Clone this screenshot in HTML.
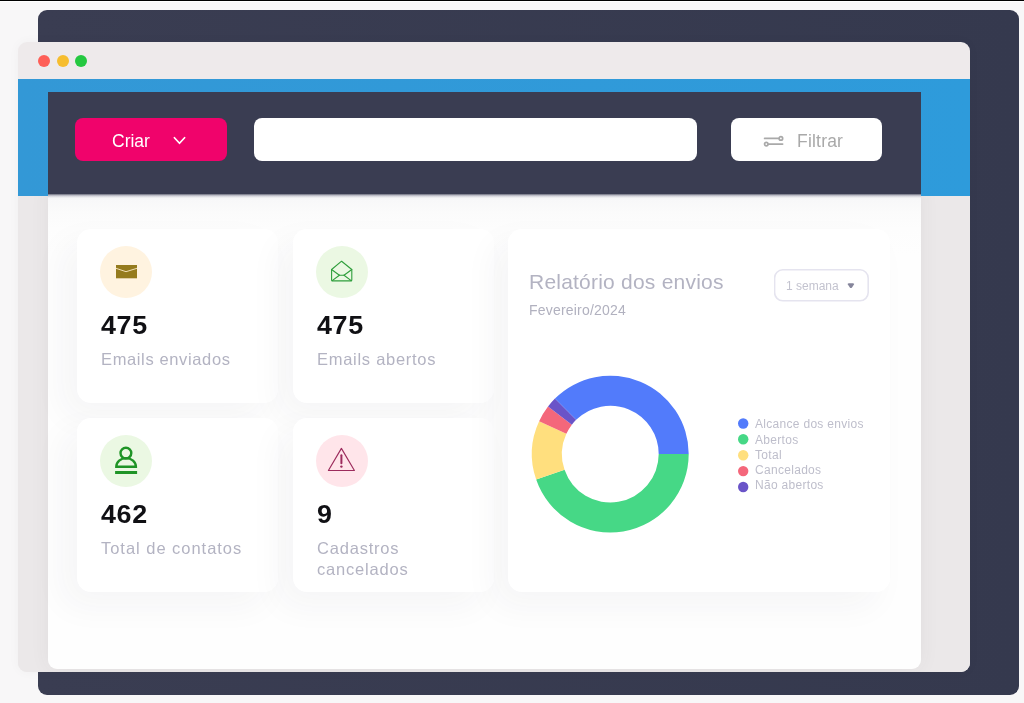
<!DOCTYPE html>
<html lang="pt-BR">
<head>
<meta charset="utf-8">
<title>Painel de envios</title>
<style>
  * { box-sizing: border-box; margin: 0; padding: 0; }
  html, body { width: 1024px; height: 703px; overflow: hidden; }
  body {
    position: relative;
    background: #f8f7f8;
    font-family: "Liberation Sans", sans-serif;
    -webkit-font-smoothing: antialiased;
  }
  .abs { position: absolute; }
  .lg, .num, .lbl, .rtitle, .rsub, .btn span, .dd span { will-change: transform; }
  .topline { left: 0; top: 0; width: 1024px; height: 1px; background: #000; }
  .topline2 { left: 0; top: 1px; width: 1024px; height: 1px; background: #fff; }
  .backpanel { left: 38px; top: 10px; width: 981px; height: 685px; border-radius: 9px; background: linear-gradient(to right, #3a3d52, #35394e); }
  .window { left: 18px; top: 42.4px; width: 952px; height: 629.6px; border-radius: 9px; background: #eeeaeb; overflow: hidden; box-shadow: 0 0 12px rgba(0,0,0,0.035); }
  .bluebar { left: 18px; top: 79px; width: 952px; height: 116.5px; background: linear-gradient(to right, #3398d6, #2e9bdb); }
  .header { left: 48px; top: 91.6px; width: 873px; height: 102.4px; background: #3a3d52; }
  .content { left: 48px; top: 194px; width: 873px; height: 475px; border-radius: 0 0 9px 9px;
    background: linear-gradient(to bottom, #f3f3f5 0px, #f8f8f9 6px, #fbfbfb 18px, #fdfdfd 34px, #fefefe 60px, #fefefe 100%); }
  .lower { left: 18px; top: 195.5px; width: 952px; height: 476.5px; border-radius: 0 0 9px 9px; overflow: hidden; background: #ebe8e9; }
  .contentshadow { left: 30px; top: -10px; width: 873px; height: 483.5px; border-radius: 0 0 9px 9px; box-shadow: 0 0 20px rgba(70,60,75,0.06); }
  .hshadow { left: 48px; top: 193.5px; width: 873px; height: 4.5px; background: linear-gradient(to bottom, rgba(58,61,82,0.75), rgba(90,90,120,0.25) 45%, rgba(120,120,150,0)); }
  .dot { width: 12px; height: 12px; border-radius: 50%; top: 55.3px; }

  .btn { top: 118.2px; height: 42.4px; border-radius: 8px; }
  .criar { left: 75px; width: 151.8px; background: #f0036b; color: #fff; }
  .search { left: 254.2px; width: 443.3px; background: #fff; }
  .filtrar { left: 730.8px; width: 151.7px; background: #fff; color: #a9a9a9; }
  .btn span { position: absolute; font-size: 17px; line-height: 20px; white-space: nowrap; }

  .card { background: #fff; border-radius: 14px; box-shadow: -14px 14px 34px rgba(40,40,60,0.042); }
  .c1 { left: 77px; top: 229px; width: 201px; height: 174px; }
  .c2 { left: 293px; top: 229px; width: 201px; height: 174px; }
  .c3 { left: 77px; top: 418px; width: 201px; height: 174px; }
  .c4 { left: 293px; top: 418px; width: 201px; height: 174px; }
  .report { left: 508px; top: 229px; width: 382px; height: 363px; }
  .ico { position: absolute; left: 23px; top: 17px; width: 52px; height: 52px; border-radius: 50%; }
  .num { position: absolute; left: 23.5px; top: 80.7px; font-size: 25px; line-height: 30px; font-weight: bold; color: #101014; letter-spacing: 0.6px; white-space: nowrap; transform: scaleX(1.075); transform-origin: 0 0; }
  .lbl { position: absolute; left: 23.5px; top: 120.3px; font-size: 16.5px; line-height: 20.5px; color: #b3b3c2; letter-spacing: 0.63px; white-space: nowrap; }
  .rtitle { left: 529px; top: 268.5px; font-size: 21px; line-height: 26px; color: #b3b3c2; letter-spacing: 0.22px; white-space: nowrap; }
  .rsub { left: 529px; top: 302px; font-size: 14px; line-height: 17px; color: #b1b1bf; letter-spacing: 0.2px; white-space: nowrap; }
  .dd { left: 774px; top: 268.5px; width: 95px; height: 32.5px; }
  .dd span { position: absolute; left: 12.2px; top: 10.5px; font-size: 12px; line-height: 14px; color: #c3c3cf; white-space: nowrap; }
  .lg { left: 755.3px; font-size: 12px; line-height: 14px; color: #bebecb; letter-spacing: 0.3px; white-space: nowrap; }
</style>
</head>
<body>
  <div class="abs backpanel"></div>
  <div class="abs window"></div>
  <div class="abs bluebar"></div>
  <div class="abs dot" style="left:37.8px;background:#fe5f57"></div>
  <div class="abs dot" style="left:56.5px;background:#f6bd2e"></div>
  <div class="abs dot" style="left:75px;background:#24c840"></div>
  <div class="abs lower"><div class="abs contentshadow"></div></div>
  <div class="abs content"></div>
  <div class="abs hshadow"></div>
  <div class="abs header"></div>

  <div class="abs btn criar">
    <span style="left:37px;top:12.8px;font-size:17.5px">Criar</span>
    <svg class="abs" style="left:97px;top:18px" width="15" height="10" viewBox="0 0 15 10"><path d="M2.4 1.7 L7.5 7.3 L12.6 1.7" fill="none" stroke="#fff" stroke-width="1.7" stroke-linecap="round" stroke-linejoin="round"/></svg>
  </div>
  <div class="abs btn search"></div>
  <div class="abs btn filtrar">
    <svg class="abs" style="left:32px;top:16.7px" width="21" height="14" viewBox="0 0 21 14"><g fill="none" stroke="#a9a9a9" stroke-width="1.7" stroke-linecap="round"><path d="M1.6 3.4 H15.4"/><circle cx="17.9" cy="3.4" r="1.75"/><path d="M5.8 9.1 H19.6"/><circle cx="3.3" cy="9.1" r="1.75"/></g></svg>
    <span style="left:66.3px;top:12.8px;font-size:17.5px;letter-spacing:0.2px">Filtrar</span>
  </div>

  <div class="abs card c1">
    <div class="ico" style="background:#fff3e0">
      <svg class="abs" style="left:0;top:0" width="52" height="52" viewBox="0 0 52 52"><rect x="16" y="19" width="21" height="13.3" fill="#957b1e"/><path d="M16 22.3 L26 25.7 L37 22.3" fill="none" stroke="#fbe9c4" stroke-width="0.9"/></svg>
    </div>
    <div class="num">475</div>
    <div class="lbl">Emails enviados</div>
  </div>
  <div class="abs card c2">
    <div class="ico" style="background:#ebf8e3">
      <svg class="abs" style="left:0;top:0" width="52" height="52" viewBox="0 0 52 52"><g fill="none" stroke="#2f9e3c" stroke-width="1.1" stroke-linejoin="round" stroke-linecap="round"><path d="M15.6 23.5 L25.6 15.2 L35.8 23.5 V33.9 Q35.8 34.9 34.8 34.9 H16.6 Q15.6 34.9 15.6 33.9 Z"/><path d="M15.6 23.5 L23.4 29.2 H28 L35.8 23.5"/><path d="M16.2 34.6 L23.4 29.2"/><path d="M35.2 34.6 L28 29.2"/></g></svg>
    </div>
    <div class="num">475</div>
    <div class="lbl" style="letter-spacing:0.72px">Emails abertos</div>
  </div>
  <div class="abs card c3">
    <div class="ico" style="background:#ebf8e3">
      <svg class="abs" style="left:0;top:0" width="52" height="52" viewBox="0 0 52 52"><g fill="none" stroke="#1f9426" stroke-width="2.4"><circle cx="25.9" cy="18.1" r="5.4"/><path d="M16.3 31.8 A9.8 8.7 0 0 1 35.9 31.8 Z" stroke-linejoin="miter"/></g><rect x="15.1" y="36" width="22" height="3" fill="#1f9426"/></svg>
    </div>
    <div class="num">462</div>
    <div class="lbl" style="letter-spacing:0.97px">Total de contatos</div>
  </div>
  <div class="abs card c4">
    <div class="ico" style="background:#ffe5ea">
      <svg class="abs" style="left:0;top:0" width="52" height="52" viewBox="0 0 52 52"><path d="M25.4 13.4 L38.4 35.5 H12.4 Z" fill="none" stroke="#9c2b5c" stroke-width="1.15" stroke-linejoin="round"/><path d="M25.4 20.3 V28.3" stroke="#9c2b5c" stroke-width="2" stroke-linecap="round" fill="none"/><circle cx="25.4" cy="31.6" r="1.2" fill="#9c2b5c"/></svg>
    </div>
    <div class="num">9</div>
    <div class="lbl" style="letter-spacing:0.8px">Cadastros<br>cancelados</div>
  </div>
  <div class="abs card report"></div>
  <div class="abs rtitle">Relatório dos envios</div>
  <div class="abs rsub">Fevereiro/2024</div>
  <div class="abs dd">
    <svg class="abs" style="left:0;top:0" width="95" height="33" viewBox="0 0 95 33"><rect x="0.6" y="0.8" width="93.6" height="31" rx="8.2" fill="#fff" stroke="#e5e4ef" stroke-width="1.6"/><path d="M74.9 14.2 H78.9 Q80.9 14.2 79.8 15.8 L78 18.4 Q76.9 19.8 75.8 18.4 L74 15.8 Q72.9 14.2 74.9 14.2 Z" fill="#85859b"/></svg>
    <span>1 semana</span>
  </div>
  <svg class="abs" style="left:0;top:0" width="1024" height="703" viewBox="0 0 1024 703">
<path d="M688.70 454.10 A78.4 78.4 0 0 1 536.17 479.62 L564.54 469.86 A48.4 48.4 0 0 0 658.70 454.10 Z" fill="#46d886"/>
<path d="M536.17 479.62 A78.4 78.4 0 0 1 539.13 421.21 L566.36 433.80 A48.4 48.4 0 0 0 564.54 469.86 Z" fill="#ffdf7e"/>
<path d="M539.13 421.21 A78.4 78.4 0 0 1 548.02 406.48 L571.85 424.70 A48.4 48.4 0 0 0 566.36 433.80 Z" fill="#f4677b"/>
<path d="M548.02 406.48 A78.4 78.4 0 0 1 554.96 398.57 L576.14 419.82 A48.4 48.4 0 0 0 571.85 424.70 Z" fill="#6a54c8"/>
<path d="M554.96 398.57 A78.4 78.4 0 0 1 688.70 454.10 L658.70 454.10 A48.4 48.4 0 0 0 576.14 419.82 Z" fill="#527bfb"/>
    <circle cx="743.2" cy="423.5" r="5.2" fill="#527bfb"/>
    <circle cx="743.2" cy="439.3" r="5.2" fill="#46d886"/>
    <circle cx="743.2" cy="455.2" r="5.2" fill="#ffdf7e"/>
    <circle cx="743.2" cy="471.1" r="5.2" fill="#f4677b"/>
    <circle cx="743.2" cy="487" r="5.2" fill="#6a54c8"/>
  </svg>
  <div class="abs lg" style="top:417px">Alcance dos envios</div>
  <div class="abs lg" style="top:433px">Abertos</div>
  <div class="abs lg" style="top:448px">Total</div>
  <div class="abs lg" style="top:463px">Cancelados</div>
  <div class="abs lg" style="top:478px">Não abertos</div>

  <div class="abs topline"></div>
  <div class="abs topline2"></div>
</body>
</html>
